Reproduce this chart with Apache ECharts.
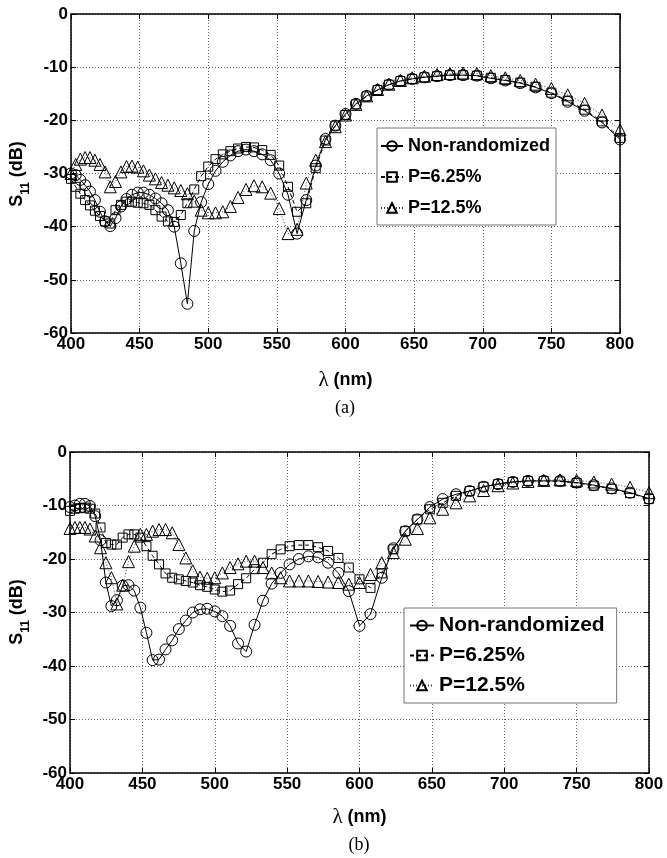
<!DOCTYPE html>
<html>
<head>
<meta charset="utf-8">
<script src="https://cdn.jsdelivr.net/npm/echarts@6/dist/echarts.min.js"></script>
<style>
html,body{margin:0;padding:0;background:#fff;}
#chart{width:667px;height:858px;}
</style>
</head>
<body>
<div id="chart"></div>
<script>
// Wavelength samples (nm)
const wl = [400.0,403.4,406.8,410.3,413.8,417.4,421.1,424.8,428.6,432.4,436.4,440.4,444.4,448.6,452.8,457.1,461.5,466.0,470.6,475.2,480.0,484.8,489.8,494.8,500.0,505.3,510.6,516.1,521.7,527.5,533.3,539.3,545.5,551.7,558.1,564.7,571.4,578.3,585.4,592.6,600.0,607.6,615.4,623.4,631.6,640.0,648.6,657.5,666.7,676.1,685.7,695.7,705.9,716.4,727.3,738.5,750.0,761.9,774.2,786.9,800.0];

// (a) S11 (dB)
const topNonRand = [-30.0,-30.3,-31.2,-32.2,-33.4,-35.0,-37.2,-39.0,-39.9,-38.4,-36.2,-34.8,-34.0,-33.6,-33.6,-34.0,-34.7,-35.6,-36.9,-40.0,-46.9,-54.5,-40.8,-35.4,-32.0,-29.5,-27.8,-26.6,-25.8,-25.5,-25.8,-26.4,-27.5,-30.0,-34.0,-41.3,-35.0,-28.5,-23.5,-21.0,-18.8,-16.9,-15.4,-14.3,-13.3,-12.6,-12.2,-11.9,-11.7,-11.5,-11.5,-11.6,-12.1,-12.5,-13.0,-13.8,-14.9,-16.5,-18.2,-20.4,-23.6];
const topP625 = [-31.0,-32.5,-33.8,-35.0,-36.0,-37.0,-38.0,-39.0,-39.4,-36.9,-35.9,-35.3,-35.3,-35.5,-35.6,-35.9,-36.9,-38.1,-39.0,-39.1,-37.8,-35.6,-33.0,-30.5,-28.7,-27.3,-26.4,-25.8,-25.3,-25.0,-25.1,-25.6,-26.5,-28.5,-32.5,-37.2,-35.6,-29.0,-23.8,-21.0,-19.0,-17.0,-15.5,-14.3,-13.3,-12.6,-12.2,-11.9,-11.7,-11.5,-11.5,-11.6,-12.0,-12.4,-12.9,-13.7,-14.8,-16.3,-18.0,-20.2,-23.3];
const topP125 = [-30.0,-28.3,-27.3,-27.0,-27.0,-27.5,-28.3,-29.7,-32.5,-31.5,-29.7,-28.7,-28.6,-28.8,-29.5,-30.3,-31.0,-31.7,-32.2,-32.7,-33.2,-33.8,-35.2,-36.9,-37.4,-37.4,-37.2,-36.2,-34.5,-33.0,-32.3,-32.5,-33.7,-36.6,-41.3,-40.5,-31.8,-27.5,-24.0,-21.2,-19.0,-17.0,-15.4,-14.2,-13.2,-12.5,-12.0,-11.7,-11.4,-11.2,-11.1,-11.2,-11.6,-12.0,-12.5,-13.2,-14.0,-15.2,-16.8,-19.0,-21.8];

// (b) S11 (dB)
const botNonRand = [-10.3,-10.0,-9.7,-9.7,-10.1,-12.0,-16.5,-24.4,-28.8,-27.7,-25.0,-24.9,-25.9,-29.1,-33.8,-38.9,-38.8,-36.9,-35.2,-33.1,-31.5,-30.0,-29.4,-29.3,-29.8,-30.7,-32.5,-35.8,-37.3,-32.3,-27.8,-24.6,-22.6,-21.0,-20.0,-19.5,-19.7,-20.7,-22.6,-26.0,-32.5,-30.3,-23.5,-18.0,-14.8,-12.6,-10.3,-8.8,-7.9,-7.3,-6.5,-6.0,-5.6,-5.4,-5.4,-5.4,-5.7,-6.2,-6.8,-7.6,-8.7];
const botP625 = [-11.0,-10.6,-10.5,-10.4,-10.6,-11.5,-14.1,-17.0,-17.3,-17.3,-16.0,-15.4,-15.4,-16.0,-17.6,-19.4,-21.0,-22.7,-23.5,-23.8,-24.1,-24.4,-24.9,-25.2,-25.7,-26.1,-25.9,-24.7,-23.6,-21.9,-20.7,-19.1,-18.2,-17.6,-17.4,-17.4,-17.8,-18.5,-19.8,-21.6,-23.8,-25.4,-22.7,-18.2,-14.8,-12.6,-10.7,-9.5,-8.2,-7.3,-6.5,-6.0,-5.6,-5.4,-5.4,-5.5,-5.8,-6.3,-6.9,-7.7,-8.8];
const botP125 = [-14.3,-14.1,-14.1,-14.1,-14.4,-15.7,-17.9,-20.7,-23.5,-28.4,-24.9,-20.5,-17.6,-15.4,-15.4,-14.8,-14.5,-14.5,-15.1,-17.3,-19.8,-22.2,-23.4,-23.6,-23.5,-22.6,-21.6,-20.9,-20.4,-20.4,-21.6,-22.6,-23.5,-24.1,-24.1,-24.1,-24.2,-24.3,-24.4,-24.7,-24.4,-22.9,-20.7,-18.8,-16.3,-14.3,-12.3,-10.7,-9.5,-8.2,-7.2,-6.3,-5.8,-5.5,-5.3,-5.2,-5.3,-5.6,-6.0,-6.6,-7.6];

const seriesNames = ['Non-randomized','P=6.25%','P=12.5%'];
const xTickLabels = ['400','450','500','550','600','650','700','750','800'];
const yTickLabels = ['-60','-50','-40','-30','-20','-10','0'];

const SANS = 'Liberation Sans, Arial, sans-serif';
const SERIF = 'Liberation Serif, Times New Roman, serif';

function pairs(ys){ return wl.map((x,i)=>[x, ys[i]]); }

const styles = [
  {symbol:'circle', symbolSize:11, line:{color:'#000', width:1, type:'solid'}},
  {symbol:'rect', symbolSize:9, line:{color:'#000', width:1, type:[4,3]}},
  {symbol:'triangle', symbolSize:12, line:{color:'#444', width:1, type:[1,2]}}
];

function mkSeries(gi, arrs){
  return arrs.map((a,k)=>({
    type:'line', name:seriesNames[k], xAxisIndex:gi*2, yAxisIndex:gi*2,
    data:pairs(a), symbol:styles[k].symbol, symbolSize:styles[k].symbolSize,
    showSymbol:true, lineStyle:styles[k].line,
    itemStyle:{color:'rgba(255,255,255,0)', borderColor:'#000', borderWidth:1},
    emphasis:{disabled:true}, z:3+k
  }));
}

function xMain(gi, gap){
  return {type:'value', gridIndex:gi, min:400, max:800, interval:50,
    axisLine:{show:true, onZero:false, lineStyle:{color:'#000', width:1.5}},
    axisTick:{show:true, inside:true, length:5, lineStyle:{color:'#000', width:1}},
    axisLabel:{show:true, margin:3, color:'#000', fontSize:17, fontWeight:'bold', fontFamily:SANS,
      formatter:(v)=>xTickLabels[Math.round((v-400)/50)]},
    splitLine:{show:true, lineStyle:{color:'#666', width:1, type:[1,2]}},
    name:'{l|λ}{n| (nm)}', nameLocation:'middle', nameGap:gap,
    nameTextStyle:{rich:{l:{fontFamily:SERIF, fontSize:21, color:'#000'}, n:{fontFamily:SANS, fontSize:18, fontWeight:'bold', color:'#000'}}}
  };
}
function xTop(gi){
  return {type:'value', gridIndex:gi, position:'top', min:400, max:800, interval:50,
    axisLine:{show:true, onZero:false, lineStyle:{color:'#000', width:1.5}},
    axisTick:{show:true, inside:true, length:5, lineStyle:{color:'#000', width:1}},
    axisLabel:{show:false}, splitLine:{show:false}};
}
function yMain(gi){
  return {type:'value', gridIndex:gi, min:-60, max:0, interval:10,
    axisLine:{show:true, onZero:false, lineStyle:{color:'#000', width:1.5}},
    axisTick:{show:true, inside:true, length:5, lineStyle:{color:'#000', width:1}},
    axisLabel:{show:true, margin:3, color:'#000', fontSize:17, fontWeight:'bold', fontFamily:SANS,
      formatter:(v)=>yTickLabels[Math.round((v+60)/10)]},
    splitLine:{show:true, lineStyle:{color:'#666', width:1, type:[1,2]}}
  };
}
function yRight(gi){
  return {type:'value', gridIndex:gi, position:'right', min:-60, max:0, interval:10,
    axisLine:{show:true, onZero:false, lineStyle:{color:'#000', width:1.5}},
    axisTick:{show:true, inside:true, length:5, lineStyle:{color:'#000', width:1}},
    axisLabel:{show:false}, splitLine:{show:false}};
}

function legendCfg(left, top, fs, gap, pad, iw){
  return {orient:'vertical', left:left, top:top, data:seriesNames,
    itemWidth:iw, itemHeight:12, itemGap:gap, padding:pad,
    borderColor:'#777', borderWidth:1, backgroundColor:'#fff', borderRadius:0,
    textStyle:{color:'#000', fontSize:fs, fontWeight:'bold', fontFamily:SANS},
    selectedMode:false};
}

const yTitleRich = {
  a:{fontFamily:SANS, fontSize:18, fontWeight:'bold', fill:'#000', lineHeight:24, verticalAlign:'top'},
  b:{fontFamily:SANS, fontSize:12, fontWeight:'bold', fill:'#000', lineHeight:12, padding:[12,0,0,0], verticalAlign:'top'}
};

const chart = echarts.init(document.getElementById('chart'), null, {renderer:'canvas'});
chart.setOption({
  animation:false,
  backgroundColor:'#fff',
  grid:[
    {left:71, top:14, width:549, height:319},
    {left:70, top:452, width:579, height:321}
  ],
  xAxis:[xMain(0,37), xTop(0), xMain(1,34), xTop(1)],
  yAxis:[yMain(0), yRight(0), yMain(1), yRight(1)],
  legend:[legendCfg(377,128,18,13,[9,6,8,3],22), legendCfg(404,608,21,9,[7,12,7,5],24)],
  series:[].concat(mkSeries(0,[topNonRand,topP625,topP125]), mkSeries(1,[botNonRand,botP625,botP125])),
  graphic:[
    {type:'text', x:20, y:174, rotation:Math.PI/2, style:{text:'{a|S}{b|11}{a| (dB)}', rich:yTitleRich, align:'center', verticalAlign:'middle'}},
    {type:'text', x:20, y:612, rotation:Math.PI/2, style:{text:'{a|S}{b|11}{a| (dB)}', rich:yTitleRich, align:'center', verticalAlign:'middle'}},
    {type:'text', x:345, y:408, style:{text:'(a)', font:'18px '+SERIF, fill:'#000', align:'center', verticalAlign:'middle'}},
    {type:'text', x:359, y:845, style:{text:'(b)', font:'18px '+SERIF, fill:'#000', align:'center', verticalAlign:'middle'}}
  ]
});
</script>
</body>
</html>
